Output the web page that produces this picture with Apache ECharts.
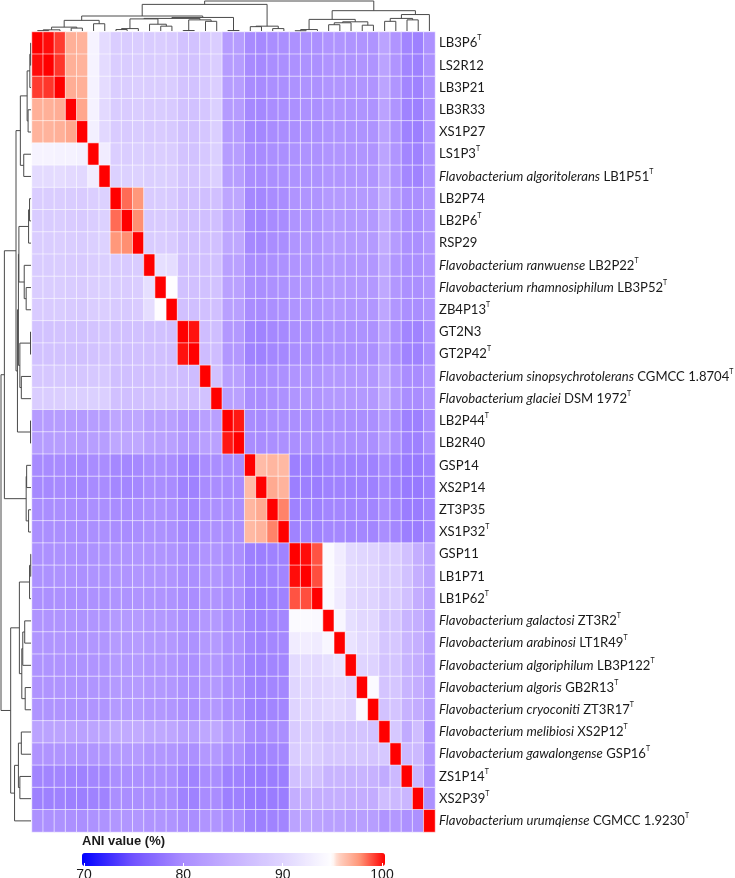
<!DOCTYPE html>
<html>
<head>
<meta charset="utf-8">
<script src="https://cdn.jsdelivr.net/npm/echarts/dist/echarts.min.js"></script>
<style>
  html, body { margin: 0; padding: 0; background: #fff; }
  #chart { width: 735px; height: 878px; }
</style>
</head>
<body>
<div id="chart"></div>
<script>
// strain labels (row / column order of the clustered heatmap)
const strains = [
  'LB3P6', 'LS2R12', 'LB3P21', 'LB3R33', 'XS1P27', 'LS1P3', 'LB1P51', 'LB2P74', 'LB2P6', 'RSP29',
  'LB2P22', 'LB3P52', 'ZB4P13', 'GT2N3', 'GT2P42', 'CGMCC 1.8704', 'DSM 1972', 'LB2P44', 'LB2R40',
  'GSP14', 'XS2P14', 'ZT3P35', 'XS1P32', 'GSP11', 'LB1P71', 'LB1P62', 'ZT3R2', 'LT1R49', 'LB3P122',
  'GB2R13', 'ZT3R17', 'XS2P12', 'GSP16', 'ZS1P14', 'XS2P39', 'CGMCC 1.9230'
];
const species = [
  '', '', '', '', '', '', 'Flavobacterium algoritolerans', '', '', '',
  'Flavobacterium ranwuense', 'Flavobacterium rhamnosiphilum', '', '', '',
  'Flavobacterium sinopsychrotolerans', 'Flavobacterium glaciei', '', '',
  '', '', '', '', '', '', '', 'Flavobacterium galactosi', 'Flavobacterium arabinosi',
  'Flavobacterium algoriphilum', 'Flavobacterium algoris', 'Flavobacterium cryoconiti',
  'Flavobacterium melibiosi', 'Flavobacterium gawalongense', '', '', 'Flavobacterium urumqiense'
];
const typeStrain = [1, 0, 0, 0, 0, 1, 1, 0, 1, 0, 1, 1, 1, 0, 1, 1, 1, 1, 0, 0, 0, 0, 1, 0, 0, 1, 1, 1, 1, 1, 1, 1, 1, 1, 1, 1];

// ANI (%) lower triangle: row i holds values against columns 0..i-1 (diagonal = 100)
const aniLower = [
  [],
  [99.8],
  [99.0, 99.1],
  [96.6, 96.6, 96.7],
  [96.5, 96.5, 96.6, 96.9],
  [93.4, 93.4, 93.3, 93.2, 93.0],
  [90.6, 90.6, 90.7, 90.4, 90.3, 92.6],
  [88.7, 88.7, 88.8, 88.6, 88.5, 88.9, 89.3],
  [88.6, 88.6, 88.7, 88.5, 88.4, 88.8, 89.2, 98.2],
  [88.8, 88.8, 88.9, 88.7, 88.6, 89.0, 89.4, 97.4, 97.6],
  [88.6, 88.6, 88.7, 88.5, 88.4, 88.8, 89.0, 88.5, 88.4, 88.6],
  [88.7, 88.7, 88.8, 88.6, 88.5, 88.9, 89.1, 88.6, 88.5, 88.7, 91.0],
  [88.5, 88.5, 88.6, 88.4, 88.3, 88.7, 88.9, 88.4, 88.3, 88.5, 90.8, 94.6],
  [87.3, 87.3, 87.4, 87.2, 87.1, 87.4, 87.6, 87.0, 86.9, 87.1, 87.0, 87.1, 86.9],
  [87.2, 87.2, 87.3, 87.1, 87.0, 87.3, 87.5, 86.9, 86.8, 87.0, 86.9, 87.0, 86.8, 99.7],
  [87.9, 87.9, 88.0, 87.8, 87.7, 88.1, 88.3, 86.8, 86.7, 86.9, 87.0, 87.1, 86.9, 86.5, 86.4],
  [88.8, 88.8, 88.9, 89.1, 89.0, 89.1, 89.0, 86.9, 86.8, 87.0, 87.1, 87.2, 87.0, 86.6, 86.5, 87.2],
  [82.0, 82.0, 82.1, 81.9, 81.8, 82.1, 82.2, 83.4, 83.3, 83.5, 82.6, 82.7, 82.5, 81.5, 81.4, 82.5, 82.6],
  [82.1, 82.1, 82.2, 82.0, 81.9, 82.2, 82.3, 83.5, 83.4, 83.6, 82.7, 82.8, 82.6, 81.6, 81.5, 82.6, 82.7, 99.6],
  [79.8, 79.8, 79.9, 79.7, 79.6, 79.9, 80.0, 79.6, 79.5, 79.7, 80.1, 80.2, 80.0, 79.3, 79.2, 80.0, 80.1, 79.9, 80.0],
  [79.7, 79.7, 79.8, 79.6, 79.5, 79.8, 79.9, 79.5, 79.4, 79.6, 80.0, 80.1, 79.9, 79.2, 79.1, 79.9, 80.0, 79.8, 79.9, 96.2],
  [80.1, 80.1, 80.2, 80.0, 79.9, 80.2, 80.3, 79.9, 79.8, 80.0, 80.4, 80.5, 80.3, 79.6, 79.5, 80.3, 80.4, 80.2, 80.3, 96.4, 96.8],
  [80.2, 80.2, 80.3, 80.1, 80.0, 80.3, 80.4, 80.0, 79.9, 80.1, 80.5, 80.6, 80.4, 79.7, 79.6, 80.4, 80.5, 80.3, 80.4, 96.3, 96.5, 97.8],
  [80.5, 80.5, 80.6, 80.4, 80.3, 80.6, 80.7, 81.0, 80.9, 81.1, 81.0, 81.1, 80.9, 80.2, 80.1, 81.0, 81.1, 80.2, 80.3, 78.9, 78.8, 79.1, 79.2],
  [80.6, 80.6, 80.7, 80.5, 80.4, 80.7, 80.8, 81.1, 81.0, 81.2, 81.1, 81.2, 81.0, 80.3, 80.2, 81.1, 81.2, 80.3, 80.4, 79.0, 78.9, 79.2, 79.3, 99.8],
  [80.4, 80.4, 80.5, 80.3, 80.2, 80.5, 80.6, 80.9, 80.8, 81.0, 80.9, 81.0, 80.8, 80.1, 80.0, 80.9, 81.0, 80.1, 80.2, 78.8, 78.7, 79.0, 79.1, 98.6, 98.7],
  [81.0, 81.0, 81.1, 80.9, 80.8, 81.1, 81.2, 81.8, 81.7, 81.9, 81.5, 81.6, 81.4, 80.6, 80.5, 81.5, 81.6, 80.3, 80.4, 79.2, 79.1, 79.4, 79.5, 94.2, 94.3, 94.1],
  [81.1, 81.1, 81.2, 81.0, 80.9, 81.2, 81.3, 81.9, 81.8, 82.0, 81.6, 81.7, 81.5, 80.7, 80.6, 81.6, 81.7, 80.4, 80.5, 79.3, 79.2, 79.5, 79.6, 92.6, 92.7, 92.5, 93.8],
  [80.9, 80.9, 81.0, 80.8, 80.7, 81.0, 81.1, 81.7, 81.6, 81.8, 81.4, 81.5, 81.3, 80.5, 80.4, 81.4, 81.5, 80.2, 80.3, 79.1, 79.0, 79.3, 79.4, 90.5, 90.6, 90.4, 91.0, 91.5],
  [81.0, 81.0, 81.1, 80.9, 80.8, 81.1, 81.2, 81.8, 81.7, 81.9, 81.5, 81.6, 81.4, 80.6, 80.5, 81.5, 81.6, 80.3, 80.4, 79.2, 79.1, 79.4, 79.5, 90.0, 90.1, 89.9, 90.3, 90.5, 89.8],
  [80.9, 80.9, 81.0, 80.8, 80.7, 81.0, 81.1, 81.7, 81.6, 81.8, 81.4, 81.5, 81.3, 80.5, 80.4, 81.4, 81.5, 80.2, 80.3, 79.1, 79.0, 79.3, 79.4, 89.8, 89.9, 89.7, 90.2, 90.3, 89.6, 94.3],
  [83.0, 83.0, 83.1, 82.9, 82.8, 83.1, 83.2, 84.0, 83.9, 84.1, 83.5, 83.6, 83.4, 82.5, 82.4, 83.5, 83.6, 81.8, 81.9, 79.8, 79.7, 80.0, 80.1, 88.5, 88.6, 88.4, 87.6, 87.7, 87.4, 87.5, 87.3],
  [81.0, 81.0, 81.1, 80.9, 80.8, 81.1, 81.2, 81.8, 81.7, 81.9, 81.3, 81.4, 81.2, 80.5, 80.4, 81.5, 81.6, 80.3, 80.4, 79.2, 79.1, 79.4, 79.5, 88.7, 88.8, 88.6, 87.8, 87.9, 87.6, 87.7, 87.5, 88.0],
  [79.3, 79.3, 79.4, 79.2, 79.1, 79.4, 79.5, 80.3, 80.2, 80.4, 80.3, 80.4, 80.2, 79.3, 79.2, 80.0, 80.1, 79.0, 79.1, 78.5, 78.4, 78.7, 78.8, 87.0, 87.1, 86.9, 85.3, 85.4, 85.1, 85.2, 85.0, 84.0, 86.0],
  [79.0, 79.0, 79.1, 78.9, 78.8, 79.1, 79.2, 80.2, 80.1, 80.3, 80.2, 80.3, 80.1, 79.2, 79.1, 79.9, 80.0, 78.9, 79.0, 78.4, 78.3, 78.6, 78.7, 84.5, 84.6, 84.4, 84.5, 84.6, 84.3, 84.4, 84.2, 86.5, 86.0, 85.5],
  [80.5, 80.5, 80.6, 80.4, 80.3, 80.6, 80.7, 81.3, 81.2, 81.4, 81.0, 81.1, 80.9, 80.2, 80.1, 81.0, 81.1, 80.0, 80.1, 79.0, 78.9, 79.2, 79.3, 83.0, 83.1, 82.9, 82.5, 82.6, 82.3, 82.4, 82.2, 81.0, 81.5, 80.5, 80.5]
];

// hierarchical clustering merges: [a, b, height]; negative = leaf (1-based), positive = earlier merge (1-based)
const merges = [
  [-1, -2, 0.4], [1, -3, 1.2], [-4, -5, 3.0], [2, 3, 4.0], [-6, -7, 7.5], [4, 5, 11],
  [-8, -9, 1.5], [7, -10, 2.5], [-12, -13, 5], [-11, 9, 7], [8, 10, 12.5],
  [-14, -15, 0.5], [-16, -17, 10], [12, 13, 11.5], [11, 14, 13], [-18, -19, 0.5], [15, 16, 14],
  [6, 17, 15.5], [-20, -21, 4.5], [-22, -23, 2.5], [19, 20, 5], [18, 21, 27.5],
  [-24, -25, 0.3], [23, -26, 1.5], [-27, -28, 6.5], [25, -29, 8.5], [-30, -31, 6], [26, 27, 9.5],
  [24, 28, 12], [-32, -33, 10], [-34, -35, 11.5], [30, 31, 13], [32, -36, 17], [29, 33, 21],
  [22, 34, 31]
];
const treeMax = 31;

const n = strains.length;
const heatData = [];
for (let i = 0; i < n; i++) {
  for (let j = 0; j < n; j++) {
    const v = i === j ? 100 : (j < i ? aniLower[i][j] : aniLower[j][i]);
    heatData.push([j, i, v]);
  }
}

// dendrogram segments from the merge table
const nodePos = [], nodeH = [];
const getPos = (k) => k < 0 ? -k - 1 : nodePos[k - 1];
const getH = (k) => k < 0 ? 0 : nodeH[k - 1];
const segs = merges.map(([a, b, h]) => {
  const pa = getPos(a), pb = getPos(b);
  nodePos.push((pa + pb) / 2);
  nodeH.push(h);
  return [pa, getH(a), pb, getH(b), h];
});

// colour scale (blue -> lavender -> white | peach -> red)
const stops = [
  [70, [0, 0, 255]], [75, [112, 82, 255]], [80, [170, 141, 255]], [85, [199, 178, 255]],
  [90, [224, 214, 255]], [94.8, [255, 255, 255]], [95.3, [255, 214, 200]], [97.5, [255, 149, 119]],
  [100, [255, 0, 0]]
];
const palette = [];
for (let v = 70; v <= 100.001; v += 0.25) {
  let k = 0;
  while (k < stops.length - 2 && v > stops[k + 1][0]) k++;
  const [v0, c0] = stops[k], [v1, c1] = stops[k + 1];
  const t = Math.min(1, Math.max(0, (v - v0) / (v1 - v0)));
  const c = c0.map((x, i) => Math.round(x + (c1[i] - x) * t));
  palette.push('rgb(' + c.join(',') + ')');
}

function dendro(xi, yi, vertical) {
  return {
    type: 'custom',
    xAxisIndex: xi,
    yAxisIndex: yi,
    silent: true,
    dimensions: ['pa', 'ha', 'pb', 'hb', 'h'],
    encode: vertical ? { x: [1, 3, 4], y: [0, 2] } : { x: [0, 2], y: [1, 3, 4] },
    data: segs,
    renderItem: function (params, api) {
      const pa = api.value(0), ha = api.value(1), pb = api.value(2), hb = api.value(3), h = api.value(4);
      const pt = vertical ? (p, hh) => api.coord([hh, p]) : (p, hh) => api.coord([p, hh]);
      return {
        type: 'polyline',
        shape: { points: [pt(pa, ha), pt(pa, h), pt(pb, h), pt(pb, hb)] },
        style: { stroke: '#4a4a4a', lineWidth: 1, fill: null }
      };
    }
  };
}

const chart = echarts.init(document.getElementById('chart'));
chart.setOption({
  animation: false,
  backgroundColor: '#ffffff',
  title: {
    text: 'ANI value (%)',
    left: 82,
    top: 835,
    padding: 0,
    textStyle: { fontFamily: 'Liberation Sans', fontSize: 13, fontWeight: 'bold', color: '#1a1a1a' }
  },
  grid: [
    { left: 32, top: 32, width: 403, height: 800, outerBoundsMode: 'none', containLabel: false },
    { left: 1, top: 32, width: 30, height: 800, outerBoundsMode: 'none' },
    { left: 32, top: 1, width: 403, height: 30, outerBoundsMode: 'none' },
    { left: 84, top: 853, width: 298, height: 13, outerBoundsMode: 'none' }
  ],
  xAxis: [
    { type: 'category', gridIndex: 0, data: strains, show: false },
    { type: 'value', gridIndex: 1, min: 0, max: treeMax, inverse: true, show: false },
    { type: 'value', gridIndex: 2, min: -0.5, max: n - 0.5, show: false },
    {
      type: 'value', gridIndex: 3, min: 70, max: 100, interval: 10, z: 10,
      axisLine: { show: false },
      splitLine: { show: false },
      axisTick: { show: true, inside: true, length: 3, lineStyle: { color: '#ffffff', width: 1 } },
      axisLabel: { margin: 2, fontFamily: 'Liberation Sans', fontSize: 14, color: '#1a1a1a' }
    }
  ],
  yAxis: [
    {
      type: 'category', gridIndex: 0, data: strains, inverse: true, position: 'right',
      axisLine: { show: false }, axisTick: { show: false }, splitLine: { show: false },
      axisLabel: {
        margin: 4,
        interval: 0,
        formatter: (value, idx) => {
          const sp = species[idx];
          return (sp ? '{it|' + sp + '}{n| ' + value + '}' : '{n|' + value + '}') + (typeStrain[idx] ? '{sup|T}' : '');
        },
        rich: {
          it: { fontFamily: 'Lato', fontStyle: 'italic', fontSize: 13.1, color: '#1a1a1a', lineHeight: 17 },
          n: { fontFamily: 'Lato', fontSize: 13.1, color: '#1a1a1a', lineHeight: 17 },
          sup: { fontFamily: 'Lato', fontSize: 7, color: '#1a1a1a', lineHeight: 17, verticalAlign: 'top' }
        }
      }
    },
    { type: 'value', gridIndex: 1, min: -0.5, max: n - 0.5, inverse: true, show: false },
    { type: 'value', gridIndex: 2, min: 0, max: treeMax, show: false },
    { type: 'value', gridIndex: 3, min: 0, max: 1, show: false }
  ],
  visualMap: {
    type: 'continuous',
    seriesIndex: 0,
    min: 70,
    max: 100,
    orient: 'horizontal',
    left: 82,
    top: 853,
    padding: 0,
    itemWidth: 13,
    itemHeight: 303,
    calculable: false,
    hoverLink: false,
    inRange: { color: palette }
  },
  series: [
    {
      type: 'heatmap',
      xAxisIndex: 0,
      yAxisIndex: 0,
      data: heatData,
      progressive: 0,
      itemStyle: { borderColor: 'rgba(255,255,255,0.55)', borderWidth: 1 },
      emphasis: { disabled: true }
    },
    dendro(1, 1, true),
    dendro(2, 2, false)
  ]
});
</script>
</body>
</html>
